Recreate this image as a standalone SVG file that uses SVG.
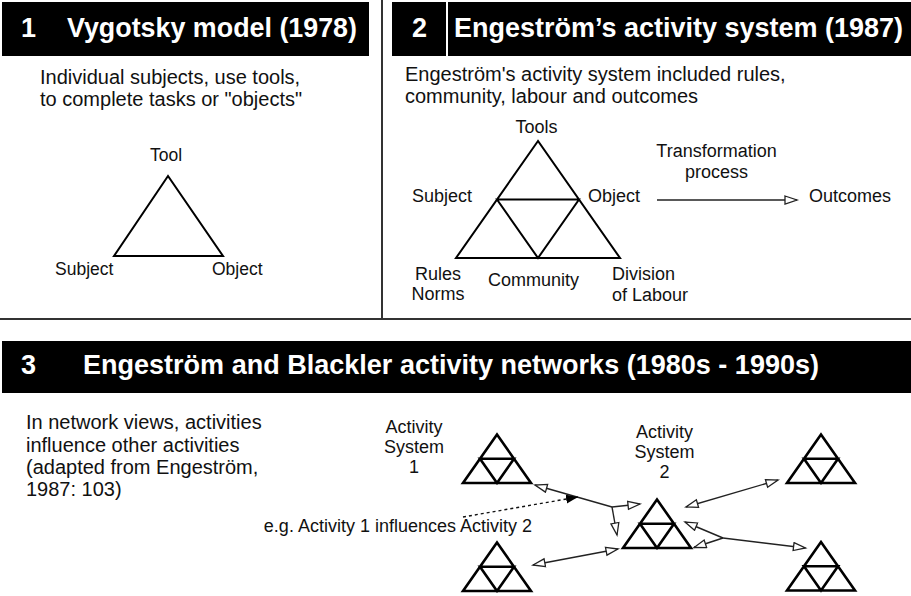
<svg xmlns="http://www.w3.org/2000/svg" width="911" height="596" viewBox="0 0 911 596">
<style>
  text { font-family: "Liberation Sans", Arial, sans-serif; fill: #111; }
  .hd { font-weight: bold; font-size: 27px; fill: #fff; }
  .sub { font-size: 20px; }
  .lbl { font-size: 18px; }
  .lbl1 { font-size: 17.5px; }
  .tri { fill: none; stroke: #000; stroke-width: 2; stroke-linejoin: miter; }
  .stri { fill: none; stroke: #000; stroke-width: 2.6; stroke-linejoin: miter; }
  .arr { fill: none; stroke: #222; stroke-width: 1.4; }
  .sep { stroke: #333; stroke-width: 2; }
</style>
<defs>
  <marker id="open" markerUnits="userSpaceOnUse" markerWidth="16" markerHeight="12" refX="13" refY="5" orient="auto-start-reverse" viewBox="0 0 16 12">
    <path d="M1,1 L13,5 L1,9 Z" fill="#fff" stroke="#222" stroke-width="1.3"/>
  </marker>
  <marker id="filled" markerUnits="userSpaceOnUse" markerWidth="14" markerHeight="10" refX="12" refY="4.5" orient="auto" viewBox="0 0 14 10">
    <path d="M0,0 L12,4.5 L0,9 Z" fill="#000"/>
  </marker>
  <g id="mini">
    <path class="stri" d="M0,0 L-34,48.5 L34,48.5 Z M-17,24.25 L17,24.25 L0,48.5 Z"/>
  </g>
</defs>
<rect x="0" y="0" width="911" height="596" fill="#fff"/>

<!-- separators -->
<g id="separators">
  <line class="sep" x1="382" y1="0" x2="382" y2="319"/>
  <line class="sep" x1="0" y1="319" x2="911" y2="319"/>
</g>

<!-- Section 1 -->
<g id="header1">
  <rect x="2" y="2" width="367" height="54" fill="#000"/>
  <text class="hd" x="21" y="37">1</text>
  <text class="hd" x="67" y="37" textLength="290" lengthAdjust="spacingAndGlyphs">Vygotsky model (1978)</text>
</g>
<g id="desc1">
  <text class="sub" x="40" y="84">Individual subjects, use tools,</text>
  <text class="sub" x="40" y="106">to complete tasks or "objects"</text>
</g>
<g id="vygotsky-triangle">
  <path class="tri" d="M168,176 L114,256 L223,256 Z"/>
  <text class="lbl1" x="166" y="161" text-anchor="middle">Tool</text>
  <text class="lbl1" x="55" y="275">Subject</text>
  <text class="lbl1" x="212" y="275">Object</text>
</g>

<!-- Section 2 -->
<g id="header2">
  <rect x="392" y="2" width="519" height="54" fill="#000"/>
  <line x1="447" y1="2" x2="447" y2="56" stroke="#fff" stroke-width="2"/>
  <text class="hd" x="412" y="37">2</text>
  <text class="hd" x="454" y="37" textLength="449" lengthAdjust="spacingAndGlyphs">Engeström’s activity system (1987)</text>
</g>
<g id="desc2">
  <text class="sub" x="405" y="81">Engeström's activity system included rules,</text>
  <text class="sub" x="405" y="103">community, labour and outcomes</text>
</g>
<g id="activity-system">
  <path class="tri" d="M538,141 L456,258 L620,258 Z M497,199.5 L579,199.5 L538,258 Z"/>
  <text class="lbl" x="536.5" y="133" text-anchor="middle">Tools</text>
  <text class="lbl" x="412" y="202">Subject</text>
  <text class="lbl" x="588" y="202">Object</text>
  <text class="lbl" x="438" y="280" text-anchor="middle">Rules</text>
  <text class="lbl" x="438" y="300" text-anchor="middle">Norms</text>
  <text class="lbl" x="488" y="286">Community</text>
  <text class="lbl" x="612" y="280">Division</text>
  <text class="lbl" x="612" y="301">of Labour</text>
</g>
<g id="transformation">
  <text class="lbl" x="716.5" y="157" text-anchor="middle">Transformation</text>
  <text class="lbl" x="716.5" y="178" text-anchor="middle">process</text>
</g>
<g id="outcomes">
  <text class="lbl" x="809" y="202">Outcomes</text>
</g>

<!-- Section 3 -->
<g id="header3">
  <rect x="2" y="341" width="909" height="52" fill="#000"/>
  <text class="hd" x="21" y="374">3</text>
  <text class="hd" x="83" y="374" textLength="736" lengthAdjust="spacingAndGlyphs">Engeström and Blackler activity networks (1980s - 1990s)</text>
</g>
<g id="desc3">
  <text class="sub" x="26" y="429">In network views, activities</text>
  <text class="sub" x="26" y="451.5">influence other activities</text>
  <text class="sub" x="26" y="474">(adapted from Engeström,</text>
  <text class="sub" x="26" y="495.5">1987: 103)</text>
</g>

<g id="system1">
  <use href="#mini" x="497" y="434.5"/>
  <text class="lbl" x="414" y="433" text-anchor="middle">Activity</text>
  <text class="lbl" x="414" y="453" text-anchor="middle">System</text>
  <text class="lbl" x="414" y="473" text-anchor="middle">1</text>
</g>
<g id="system2">
  <use href="#mini" x="657" y="499.5"/>
  <text class="lbl" x="664.5" y="438" text-anchor="middle">Activity</text>
  <text class="lbl" x="664.5" y="458" text-anchor="middle">System</text>
  <text class="lbl" x="664.5" y="478" text-anchor="middle">2</text>
</g>
<g id="system-bl"><use href="#mini" x="497" y="542.5"/></g>
<g id="system-tr"><use href="#mini" x="821" y="434.5"/></g>
<g id="system-br"><use href="#mini" x="821" y="542"/></g>
<g id="influence-label">
  <text class="lbl" x="532" y="532" text-anchor="end">e.g. Activity 1 influences Activity 2</text>
</g>

<g id="connectors">
  <line class="arr" x1="657" y1="200" x2="797" y2="200" marker-end="url(#open)"/>
  <!-- from system 1 via junction -->
  <line class="arr" x1="612" y1="507" x2="535" y2="485" marker-end="url(#open)"/>
  <line class="arr" x1="612" y1="507" x2="640" y2="504" marker-end="url(#open)"/>
  <line class="arr" x1="612" y1="507" x2="617" y2="535" marker-end="url(#open)"/>
  <!-- dotted influence -->
  <line x1="463" y1="517" x2="578" y2="497" stroke="#111" stroke-width="1.4" stroke-dasharray="3,3" marker-end="url(#filled)"/>
  <!-- bottom-left to system 2 -->
  <line class="arr" x1="533" y1="565" x2="618" y2="549" marker-start="url(#open)" marker-end="url(#open)"/>
  <!-- system 2 to top-right -->
  <line class="arr" x1="686" y1="507" x2="778" y2="480" marker-start="url(#open)" marker-end="url(#open)"/>
  <!-- junction to bottom-right -->
  <line class="arr" x1="723" y1="538" x2="685" y2="522" marker-end="url(#open)"/>
  <line class="arr" x1="723" y1="538" x2="694" y2="547.5" marker-end="url(#open)"/>
  <line class="arr" x1="723" y1="538" x2="805.5" y2="548" marker-end="url(#open)"/>
</g>
</svg>
